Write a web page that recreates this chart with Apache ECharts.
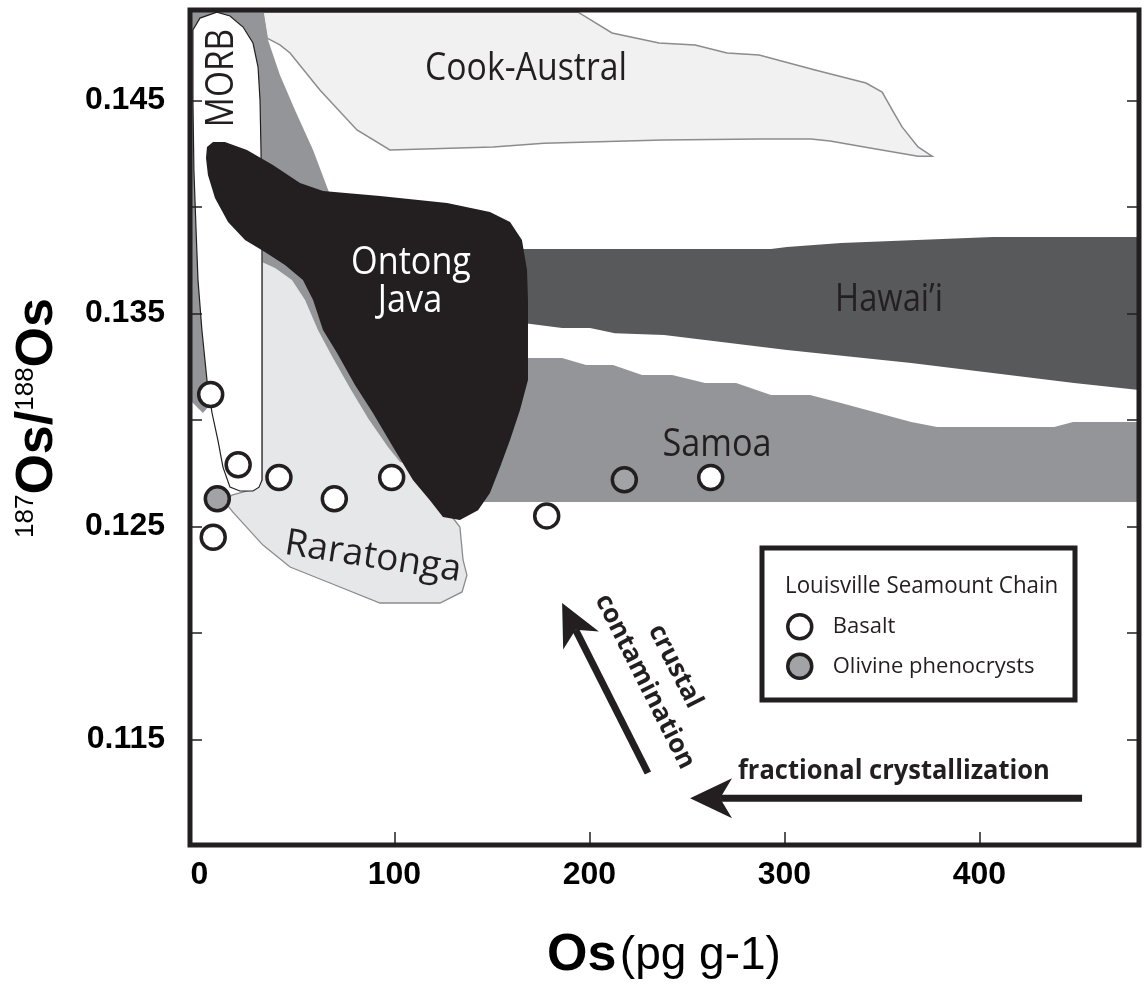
<!DOCTYPE html>
<html>
<head>
<meta charset="utf-8">
<script src="https://cdn.jsdelivr.net/npm/echarts@6/dist/echarts.min.js"></script>
<style>
  html, body { margin: 0; padding: 0; background: #fff; }
  #chart { width: 1144px; height: 984px; }
</style>
</head>
<body>
<div id="chart"></div>
<script>
// axis ranges and ticks
const xRange = [-4.8, 481.8];
const yRange = [0.11005, 0.14925];
const xTicks = [100, 200, 300, 400];
const xTickLabels = [0, 100, 200, 300, 400];
const yTicks = [0.115, 0.12, 0.125, 0.13, 0.135, 0.14, 0.145];
const yTickLabels = [0.115, 0.125, 0.135, 0.145];

// Louisville Seamount Chain samples: [Os (pg/g), 187Os/188Os]
const basalt = [[5.8, 0.1312], [19.9, 0.1279], [40.8, 0.1273], [69.2, 0.1263], [98.6, 0.1273],
  [7.1, 0.1245], [178.1, 0.1255], [262.2, 0.1273]];
const olivine = [[9.2, 0.1263], [217.9, 0.1272]];

// reference fields (outline vertices in data units)
const cookAustral = [[32.6, 0.14915], [194.2, 0.14915], [211.6, 0.14817], [235.7, 0.14770], [254.2, 0.14761],
  [270.6, 0.14723], [287.0, 0.14714], [315.7, 0.14643], [341.8, 0.14582], [350.1, 0.14540], [356.2, 0.14441],
  [360.3, 0.14376], [368.5, 0.14282], [375.7, 0.14239], [368.5, 0.14239], [343.9, 0.14277], [323.4, 0.14310],
  [313.6, 0.14319], [287.0, 0.14319], [237.7, 0.14315], [176.7, 0.14300], [150.6, 0.14282], [97.7, 0.14268],
  [80.8, 0.14362], [61.8, 0.14549], [46.5, 0.14723], [41.3, 0.14761], [34.7, 0.14793]];
const hawaii = [[161.8, 0.13803], [293.1, 0.13803], [301.3, 0.13812], [329.0, 0.13831], [406.9, 0.13859],
  [481.8, 0.13859], [481.8, 0.13141], [448.5, 0.13174], [365.0, 0.13268], [301.3, 0.13329], [238.3, 0.13399],
  [213.1, 0.13408], [200.3, 0.13432], [186.0, 0.13432], [167.0, 0.13455], [161.8, 0.13563]];
const samoa = [[143.9, 0.12615], [481.8, 0.12615], [481.8, 0.12991], [448.0, 0.12991], [438.3, 0.12967],
  [378.3, 0.12967], [365.0, 0.12991], [329.0, 0.13080], [313.1, 0.13117], [293.1, 0.13117], [275.2, 0.13174],
  [259.3, 0.13174], [242.4, 0.13211], [227.0, 0.13211], [212.1, 0.13258], [198.3, 0.13258], [186.0, 0.13291],
  [164.4, 0.13291], [154.2, 0.13094]];
const raratonga = [[32.1, 0.13798], [32.1, 0.12718], [25.9, 0.12671], [16.7, 0.12648], [13.1, 0.12615],
  [17.2, 0.12568], [32.6, 0.12413], [46.5, 0.12310], [67.0, 0.12235], [92.6, 0.12141], [123.4, 0.12141],
  [134.7, 0.12193], [137.2, 0.12272], [135.2, 0.12343], [133.6, 0.12498], [130.0, 0.12540], [113.1, 0.12718],
  [97.7, 0.13000], [72.1, 0.13423], [51.6, 0.13681]];
const grayBand = [[-4.8, 0.14925], [32.6, 0.14925], [35.2, 0.14784], [41.3, 0.14620], [49.0, 0.14455],
  [58.3, 0.14268], [67.0, 0.14056], [113.1, 0.13563], [138.8, 0.12718], [102.9, 0.12803], [96.7, 0.12873],
  [86.5, 0.13009], [77.2, 0.13150], [68.0, 0.13300], [60.8, 0.13423], [54.2, 0.13563], [47.5, 0.13657],
  [38.8, 0.13714], [32.1, 0.13742], [8.0, 0.13751], [5.4, 0.13188], [5.4, 0.13070], [1.8, 0.13033],
  [-4.8, 0.13094]];
const morb = [[-3.3, 0.14831], [0.3, 0.14887], [9.0, 0.14915], [15.7, 0.14897], [22.4, 0.14845], [27.5, 0.14770],
  [30.1, 0.14657], [31.1, 0.14502], [31.6, 0.14268], [32.1, 0.13798], [32.1, 0.12718], [30.6, 0.12685],
  [27.5, 0.12667], [20.8, 0.12667], [15.7, 0.12685], [12.1, 0.12779], [9.5, 0.12906], [6.5, 0.13033],
  [3.9, 0.13188], [1.3, 0.13423], [-0.7, 0.13657], [-1.7, 0.13892], [-2.8, 0.14174], [-3.3, 0.14502]];
const ontongJava = [[3.9, 0.14282], [7.0, 0.14305], [13.1, 0.14305], [24.4, 0.14268], [37.7, 0.14197],
  [51.6, 0.14113], [63.4, 0.14075], [92.6, 0.14052], [127.0, 0.14019], [149.0, 0.13977], [159.3, 0.13930],
  [165.4, 0.13845], [168.0, 0.13704], [168.5, 0.13563], [168.5, 0.13188], [164.4, 0.13047], [159.3, 0.12906],
  [154.2, 0.12779], [149.0, 0.12657], [142.9, 0.12577], [133.6, 0.12531], [124.9, 0.12545], [118.2, 0.12624],
  [109.5, 0.12718], [99.3, 0.12873], [89.0, 0.13033], [79.8, 0.13164], [70.6, 0.13315], [63.4, 0.13423],
  [58.3, 0.13563], [53.1, 0.13657], [43.9, 0.13728], [33.6, 0.13789], [23.4, 0.13845], [14.7, 0.13930],
  [8.0, 0.14042], [4.4, 0.14150], [3.4, 0.14230]];

// process arrows: start -> tip
const arrowStarts = [[230.0, 0.11343], [452.6, 0.11225]];
const arrowTips = [[186.0, 0.12141], [251.6, 0.11225]];

const ink = "#231f20";
const labelFont = "'Open Sans', 'Noto Sans', sans-serif";

function fieldSeries(name, pts, fill, stroke, width) {
  return {
    type: "custom",
    name: name,
    data: pts,
    silent: true,
    renderItem(params, api) {
      if (params.dataIndex !== 0) return null;
      return {
        type: "polygon",
        shape: { points: pts.map((p) => api.coord(p)) },
        style: { fill: fill, stroke: stroke || null, lineWidth: width || 0 },
      };
    },
  };
}

function textLabel(text, x, y, size, opts) {
  const o = opts || {};
  return {
    type: "text",
    x: x,
    y: y,
    z: o.z || 20,
    rotation: o.rotation || 0,
    scaleX: o.scaleX || 1,
    style: {
      text: text,
      fill: o.color || ink,
      fontSize: size,
      fontFamily: o.family || labelFont,
      fontWeight: o.weight || "normal",
      align: o.align || "center",
      verticalAlign: "middle",
      lineHeight: o.lineHeight || size,
    },
  };
}

const chart = echarts.init(document.getElementById("chart"));
const arrows = arrowStarts.map((s, i) => s.concat(arrowTips[i]));

chart.setOption({
  animation: false,
  backgroundColor: "#fff",
  grid: { left: 190, right: 5, top: 10, bottom: 139, show: true, borderWidth: 5, borderColor: ink, z: 10 },
  xAxis: [
    {
      type: "value",
      min: xRange[0],
      max: xRange[1],
      z: 10,
      splitLine: { show: false },
      axisLine: { show: false },
      axisTick: { show: true, inside: true, length: 13, customValues: xTicks, lineStyle: { color: ink, width: 1.5 } },
      axisLabel: {
        customValues: xTickLabels,
        margin: 14,
        color: "#000",
        fontSize: 32,
        fontWeight: "bold",
        fontFamily: "'Liberation Sans Narrow', 'Liberation Sans', Arial, sans-serif",
      },
    },
  ],
  yAxis: [
    {
      type: "value",
      min: yRange[0],
      max: yRange[1],
      z: 10,
      splitLine: { show: false },
      axisLine: { show: false, onZero: false },
      axisTick: { show: true, inside: true, length: 12, customValues: yTicks, lineStyle: { color: ink, width: 1.5 } },
      axisLabel: {
        customValues: yTickLabels,
        margin: 25,
        color: "#000",
        fontSize: 32,
        fontWeight: "bold",
        fontFamily: "'Liberation Sans', Arial, sans-serif",
        formatter: (v) => v.toFixed(3),
      },
    },
    {
      type: "value",
      position: "right",
      min: yRange[0],
      max: yRange[1],
      z: 10,
      splitLine: { show: false },
      axisLine: { show: false, onZero: false },
      axisTick: { show: true, inside: true, length: 12, customValues: yTicks, lineStyle: { color: ink, width: 1.5 } },
      axisLabel: { show: false },
    },
  ],
  legend: {
    data: ["Basalt", "Olivine phenocrysts"],
    orient: "vertical",
    left: 786,
    top: 613,
    z: 30,
    icon: "circle",
    itemWidth: 24,
    itemHeight: 24,
    itemGap: 12,
    padding: 0,
    selectedMode: false,
    itemStyle: { borderColor: ink, borderWidth: 3.5 },
    textStyle: { fontSize: 22, fontFamily: labelFont, color: ink, padding: [0, 0, 0, 16] },
  },
  series: [
    fieldSeries("Cook-Austral", cookAustral, "#f1f1f2", "#8a8c8e", 1.5),
    fieldSeries("Hawai'i", hawaii, "#58595b"),
    fieldSeries("Samoa", samoa, "#939598"),
    fieldSeries("Raratonga", raratonga, "#e6e7e8", "#8a8c8e", 1.3),
    fieldSeries("gray field", grayBand, "#939598"),
    fieldSeries("MORB", morb, "#ffffff", ink, 1.2),
    fieldSeries("Ontong Java", ontongJava, ink),
    {
      type: "scatter",
      name: "Basalt",
      data: basalt,
      symbol: "circle",
      symbolSize: 24,
      z: 5,
      itemStyle: { color: "#ffffff", borderColor: ink, borderWidth: 3.5, opacity: 1 },
    },
    {
      type: "scatter",
      name: "Olivine phenocrysts",
      data: olivine,
      symbol: "circle",
      symbolSize: 24,
      z: 5,
      itemStyle: { color: "#a1a3a6", borderColor: ink, borderWidth: 3.5, opacity: 1 },
    },
    {
      type: "custom",
      name: "arrows",
      data: arrows,
      encode: { x: [0, 2], y: [1, 3] },
      silent: true,
      z: 6,
      renderItem(params, api) {
        const s = api.coord([api.value(0), api.value(1)]);
        const t = api.coord([api.value(2), api.value(3)]);
        const dx = t[0] - s[0], dy = t[1] - s[1];
        const len = Math.hypot(dx, dy);
        const ux = dx / len, uy = dy / len, nx = -uy, ny = ux;
        const headLen = 42, halfW = 20, notch = 30;
        const base = [t[0] - ux * notch, t[1] - uy * notch];
        return {
          type: "group",
          children: [
            { type: "line", shape: { x1: s[0], y1: s[1], x2: base[0], y2: base[1] }, style: { stroke: ink, lineWidth: 7 } },
            {
              type: "polygon",
              shape: {
                points: [
                  t,
                  [t[0] - ux * headLen + nx * halfW, t[1] - uy * headLen + ny * halfW],
                  base,
                  [t[0] - ux * headLen - nx * halfW, t[1] - uy * headLen - ny * halfW],
                ],
              },
              style: { fill: ink },
            },
          ],
        };
      },
    },
  ],
  graphic: [
    textLabel("Cook-Austral", 526, 69, 38, { scaleX: 0.89 }),
    textLabel("MORB", 222, 78, 38, { scaleX: 0.88, rotation: Math.PI / 2 }),
    textLabel("Ontong", 411, 263, 38, { scaleX: 0.9, color: "#ffffff" }),
    textLabel("Java", 410, 301, 38, { scaleX: 0.9, color: "#ffffff" }),
    textLabel("Hawai\u2019i", 889, 300, 38, { scaleX: 0.86 }),
    textLabel("Samoa", 717, 445, 38, { scaleX: 0.9 }),
    textLabel("Raratonga", 373, 557, 37, { rotation: -0.155 }),
    textLabel("crustal\ncontamination", 660, 674, 26, { weight: "bold", rotation: -1.103, lineHeight: 34 }),
    textLabel("fractional crystallization", 738, 772, 26, { weight: "bold", align: "left", scaleX: 0.98 }),
    {
      type: "rect",
      z: 15,
      shape: { x: 762, y: 548, width: 313, height: 152 },
      style: { fill: "#ffffff", stroke: ink, lineWidth: 5 },
    },
    textLabel("Louisville Seamount Chain", 785, 586, 24, { align: "left", scaleX: 0.93, z: 30 }),
    {
      type: "text",
      x: 38,
      y: 418,
      z: 20,
      rotation: Math.PI / 2,
      style: {
        text: "{s|187}{b|Os/}{s|188}{b|Os}",
        align: "center",
        verticalAlign: "middle",
        rich: {
          b: { fontSize: 52, fontWeight: "bold", fontFamily: "'Liberation Sans', Arial, sans-serif", fill: "#000", lineHeight: 50 },
          s: { fontSize: 26, fontFamily: "'Liberation Sans Narrow', 'Liberation Sans', Arial, sans-serif", fill: "#000", verticalAlign: "top", lineHeight: 26 },
        },
      },
    },
    {
      type: "text",
      x: 664,
      y: 956,
      z: 20,
      style: {
        text: "{b|Os} {r|(pg g-1)}",
        align: "center",
        verticalAlign: "middle",
        rich: {
          b: { fontSize: 52, fontWeight: "bold", fontFamily: "'Liberation Sans', Arial, sans-serif", fill: "#000" },
          r: { fontSize: 46, fontFamily: "'Liberation Sans Narrow', 'Liberation Sans', Arial, sans-serif", fill: "#000" },
        },
      },
    },
  ],
});
</script>
</body>
</html>
